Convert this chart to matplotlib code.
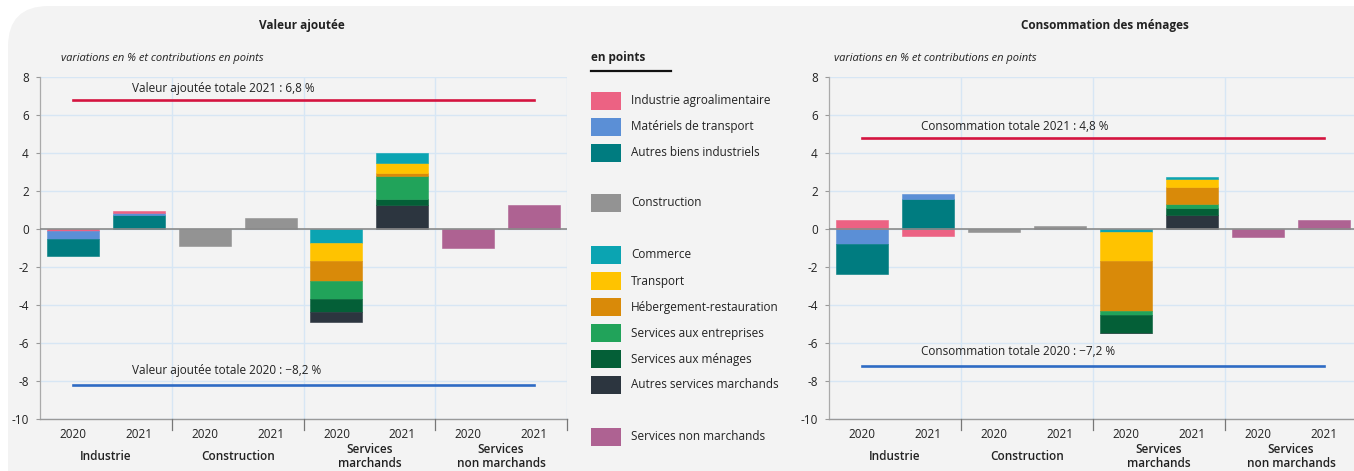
import matplotlib
matplotlib.use("Agg")
import matplotlib.pyplot as plt
from matplotlib.patches import FancyBboxPatch, Rectangle
import numpy as np

plt.rcParams['font.family'] = ['Open Sans', 'DejaVu Sans']

# ---- data ----
year_labels = ["2020", "2021", "2020", "2021", "2020", "2021", "2020", "2021"]
group_labels = ["Industrie", "Construction", "Services\nmarchands", "Services\nnon marchands"]

series_names = ["Industrie agroalimentaire", "Matériels de transport", "Autres biens industriels",
                "Construction",
                "Commerce", "Transport", "Hébergement-restauration", "Services aux entreprises",
                "Services aux ménages", "Autres services marchands",
                "Services non marchands"]
series_colors = ["#ec6283", "#5b8fd6", "#007c80",
                 "#939393",
                 "#0ba4b2", "#ffc300", "#d98a09", "#21a35a",
                 "#045f37", "#2c353f",
                 "#ae6292"]

# Valeur ajoutée: contributions per bar (8 bars)
va_agro      = [-0.10, 0.10, 0, 0, 0, 0, 0, 0]
va_transpmat = [-0.40, 0.09, 0, 0, 0, 0, 0, 0]
va_autbiens  = [-0.88, 0.77, 0, 0, 0, 0, 0, 0]
va_constr    = [0, 0, -0.88, 0.58, 0, 0, 0, 0]
va_commerce  = [0, 0, 0, 0, -0.70, 0.51, 0, 0]
va_transport = [0, 0, 0, 0, -0.95, 0.53, 0, 0]
va_heberg    = [0, 0, 0, 0, -1.09, 0.18, 0, 0]
va_entrep    = [0, 0, 0, 0, -0.91, 1.18, 0, 0]
va_menages   = [0, 0, 0, 0, -0.70, 0.32, 0, 0]
va_autserv   = [0, 0, 0, 0, -0.51, 1.28, 0, 0]
va_nonmarch  = [0, 0, 0, 0, 0, 0, -1.00, 1.28]
va_total_2021 = 6.8
va_total_2020 = -8.2

# Consommation des ménages
cm_agro      = [0.51, -0.37, 0, 0, 0, 0, 0, 0]
cm_transpmat = [-0.77, 0.26, 0, 0, 0, 0, 0, 0]
cm_autbiens  = [-1.60, 1.60, 0, 0, 0, 0, 0, 0]
cm_constr    = [0, 0, -0.12, 0.19, 0, 0, 0, 0]
cm_commerce  = [0, 0, 0, 0, -0.12, 0.12, 0, 0]
cm_transport = [0, 0, 0, 0, -1.54, 0.39, 0, 0]
cm_heberg    = [0, 0, 0, 0, -2.65, 0.91, 0, 0]
cm_entrep    = [0, 0, 0, 0, -0.18, 0.19, 0, 0]
cm_menages   = [0, 0, 0, 0, -0.95, 0.40, 0, 0]
cm_autserv   = [0, 0, 0, 0, -0.02, 0.74, 0, 0]
cm_nonmarch  = [0, 0, 0, 0, 0, 0, -0.38, 0.50]
cm_total_2021 = 4.8
cm_total_2020 = -7.2

va_series = [va_agro, va_transpmat, va_autbiens, va_constr, va_commerce, va_transport,
             va_heberg, va_entrep, va_menages, va_autserv, va_nonmarch]
cm_series = [cm_agro, cm_transpmat, cm_autbiens, cm_constr, cm_commerce, cm_transport,
             cm_heberg, cm_entrep, cm_menages, cm_autserv, cm_nonmarch]

# ---- figure ----
W, H = 1354, 471
fig = plt.figure(figsize=(W / 100, H / 100), dpi=100)
fig.patch.set_facecolor("white")
BG = "#f3f3f3"
panel = FancyBboxPatch((8 / W, -0.1), 1.2, 1.1 - 6 / H,
                       boxstyle="round,pad=0,rounding_size=0.03",
                       transform=fig.transFigure, facecolor=BG, edgecolor="none",
                       mutation_aspect=W / H, zorder=-10)
fig.patches.append(panel)

GRID = "#d7e6f4"
TXT = "#222222"


def px_axes(x0, x1, ytop, ybot):
    return [x0 / W, 1 - ybot / H, (x1 - x0) / W, (ybot - ytop) / H]


def draw_chart(ax, series, tot21, tot20, lab21, lab20):
    ax.set_facecolor(BG)
    x = np.arange(len(year_labels))
    pos_base = np.zeros(len(x))
    neg_base = np.zeros(len(x))
    # negative stacks in series order (first closest to zero)
    for vals, col in zip(series, series_colors):
        v = np.array(vals, dtype=float)
        neg = np.where(v < 0, v, 0)
        m = neg < 0
        if m.any():
            ax.bar(x[m], neg[m], bottom=neg_base[m], width=0.79, color=col,
                   edgecolor=col, linewidth=0.4, zorder=3)
        neg_base += neg
    # positive stacks in reversed order (last closest to zero)
    for vals, col in zip(series[::-1], series_colors[::-1]):
        v = np.array(vals, dtype=float)
        pos = np.where(v > 0, v, 0)
        m = pos > 0
        if m.any():
            ax.bar(x[m], pos[m], bottom=pos_base[m], width=0.79, color=col,
                   edgecolor=col, linewidth=0.4, zorder=3)
        pos_base += pos

    ax.set_xlim(-0.5, 7.5)
    ax.set_ylim(-10, 8)
    yt = np.arange(-10, 9, 2)
    ax.set_yticks(yt)
    ax.set_yticklabels([str(v) for v in yt], fontsize=8.5, color=TXT)
    ax.yaxis.grid(True, color=GRID, linewidth=1, zorder=0)
    for gx in [1.5, 3.5, 5.5, 7.5]:
        ax.axvline(gx, color=GRID, linewidth=1, zorder=0)
    ax.axhline(0, color="#8a8a8a", linewidth=1.2, zorder=4)

    ax.set_xticks(x)
    ax.set_xticklabels(year_labels, fontsize=8.5, color=TXT)
    ax.tick_params(axis="x", length=0, pad=6)
    ax.tick_params(axis="y", length=3, color="#999999", pad=5, width=0.8)
    # group separator ticks below the axis
    for gx in [1.5, 3.5, 5.5, 7.5]:
        ax.plot([gx, gx], [0, -0.03], transform=ax.get_xaxis_transform(),
                color="#777777", linewidth=0.9, clip_on=False, zorder=5)
    for i, g in enumerate(group_labels):
        ax.text(2 * i + 0.5, -0.108, g, transform=ax.get_xaxis_transform(),
                ha="center", va="center", fontsize=8.5, fontweight="semibold",
                color=TXT, linespacing=1.12)

    for side in ["top", "right"]:
        ax.spines[side].set_visible(False)
    ax.spines["left"].set_color("#aaaaaa")
    ax.spines["left"].set_linewidth(0.9)
    ax.spines["bottom"].set_color("#999999")
    ax.spines["bottom"].set_linewidth(1.0)

    ax.plot([0, 7], [tot21, tot21], color="#d4143f", linewidth=1.9, zorder=6)
    ax.plot([0, 7], [tot20, tot20], color="#2e6bc4", linewidth=1.9, zorder=6)
    ax.annotate(lab21, (0.9, tot21), xytext=(0, 12), textcoords="offset pixels",
                ha="left", va="center", fontsize=8.5, color=TXT, zorder=7)
    ax.annotate(lab20, (0.9, tot20), xytext=(0, 15), textcoords="offset pixels",
                ha="left", va="center", fontsize=8.5, color=TXT, zorder=7)


ax1 = fig.add_axes(px_axes(40, 567, 77.3, 419.3))
ax2 = fig.add_axes(px_axes(829, 1357, 77.3, 419.3))
draw_chart(ax1, va_series, va_total_2021, va_total_2020,
           "Valeur ajoutée totale 2021 : 6,8 %", "Valeur ajoutée totale 2020 : \u22128,2 %")
draw_chart(ax2, cm_series, cm_total_2021, cm_total_2020,
           "Consommation totale 2021 : 4,8 %", "Consommation totale 2020 : \u22127,2 %")

# titles
fig.text(302 / W, 1 - 26 / H, "Valeur ajoutée", ha="center", va="center",
         fontsize=8.5, fontweight="bold", color=TXT)
fig.text(1105 / W, 1 - 26 / H, "Consommation des ménages", ha="center", va="center",
         fontsize=8.5, fontweight="bold", color=TXT)
fig.text(61 / W, 1 - 58 / H, "variations en % et contributions en points", ha="left",
         va="center", fontsize=8, style="italic", color=TXT)
fig.text(834 / W, 1 - 58 / H, "variations en % et contributions en points", ha="left",
         va="center", fontsize=8, style="italic", color=TXT)

# legend
fig.text(591 / W, 1 - 58 / H, "en points", ha="left", va="center", fontsize=8.5,
         fontweight="bold", color=TXT)
fig.add_artist(plt.Line2D([591 / W, 671 / W], [1 - 71 / H, 1 - 71 / H],
                          transform=fig.transFigure, color="#111111", linewidth=1.6))
leg_y = [100.5, 126.7, 153, 203, 255, 281, 307, 333, 359, 385, 437]
for name, col, yc in zip(series_names, series_colors, leg_y):
    fig.patches.append(Rectangle((591 / W, 1 - (yc + 9) / H), 30 / W, 18 / H,
                                 transform=fig.transFigure, facecolor=col,
                                 edgecolor="none", zorder=3))
    fig.text(631 / W, 1 - yc / H, name, ha="left", va="center", fontsize=8.5, color=TXT)

fig.savefig("out.png", dpi=100, facecolor=fig.get_facecolor())
